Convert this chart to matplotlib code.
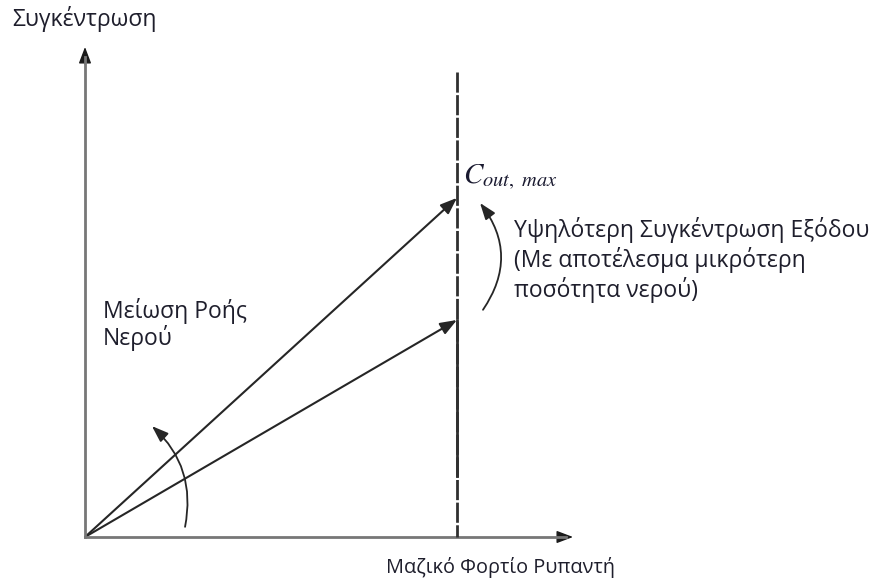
import matplotlib
matplotlib.use("Agg")
import matplotlib.pyplot as plt
from matplotlib.patches import FancyArrowPatch

# diagram values (x: pollutant mass load, y: outlet concentration)
load_max = 1.0
c_out_max = 1.0
c_out_low = 0.64
x_end = 1.312
y_end = 1.445
limit_top = 1.372
solid_from = 0.18

axis_label_y = "Συγκέντρωση"
axis_label_x = "Μαζικό Φορτίο Ρυπαντή"
note_right = ["Υψηλότερη Συγκέντρωση Εξόδου", "(Με αποτέλεσμα μικρότερη", "ποσότητα νερού)"]
note_left = ["Μείωση Ροής", "Νερού"]

plt.rcParams["font.family"] = ["Open Sans", "DejaVu Sans"]
plt.rcParams["mathtext.fontset"] = "stix"
plt.rcParams["lines.scale_dashes"] = False

W, H = 874, 579
fig = plt.figure(figsize=(W / 100, H / 100), dpi=100)
fig.patch.set_facecolor("white")


def px(x, y):
    return x / W, 1 - y / H


ax = fig.add_axes([85 / W, 42 / H, 488 / W, 490 / H])
ax.set_xlim(0, x_end)
ax.set_ylim(0, y_end)
ax.axis("off")

txt = "#1e1e2c"
ink = "#262626"


def arrow(p0, p1, color=ink, lw=1.4, rad=0.0, hl=1.0, hw=0.38):
    a = FancyArrowPatch(p0, p1, arrowstyle=f"-|>,head_length={hl},head_width={hw}",
                        connectionstyle=f"arc3,rad={rad}", mutation_scale=10,
                        color=color, lw=lw, shrinkA=0, shrinkB=0, clip_on=False)
    ax.add_patch(a)


# axes: grey shafts with dark heads
ax.plot([0, x_end - 0.02], [0, 0], color="#777777", lw=2.0, clip_on=False)
ax.plot([0, 0], [0, y_end - 0.03], color="#777777", lw=2.0, clip_on=False)
arrow((x_end - 0.04, 0), (x_end, 0), color="#1a1a1a", lw=1.0)
arrow((0, y_end - 0.05), (0, y_end), color="#1a1a1a", lw=1.0)

# maximum load limit
ax.plot([load_max, load_max], [limit_top, 0], color="#303030", lw=2.0,
        dashes=(14.5, 1.8), clip_on=False)
ax.plot([load_max, load_max], [c_out_low, solid_from], color="#303030", lw=2.0,
        clip_on=False)

# operating lines
arrow((0, 0), (load_max, c_out_max), lw=1.5)
arrow((0, 0), (load_max, c_out_low), lw=1.5)

# curved arrows
arrow((load_max + 0.07, c_out_low + 0.03), (load_max + 0.062, c_out_max - 0.015),
      lw=1.3, rad=0.36, hl=1.0, hw=0.36)
arrow((0.269, 0.03), (0.18, 0.327), lw=1.3, rad=0.28, hl=1.0, hw=0.36)

# labels
fs = 16.5
fig.text(*px(12, 26), axis_label_y, fontsize=fs, color=txt, va="baseline", ha="left")
fig.text(*px(500, 573), axis_label_x, fontsize=14.3, color=txt, va="baseline", ha="center")
fig.text(*px(463, 183), r"$C_{out,\ max}$", fontsize=21, color="#1a1a30",
         va="baseline", ha="left")
for line, yb in zip(note_right, [237, 267, 297]):
    fig.text(*px(514, yb), line, fontsize=fs, color=txt, va="baseline", ha="left")
for line, yb in zip(note_left, [318, 345]):
    fig.text(*px(103, yb), line, fontsize=fs, color=txt, va="baseline", ha="left")

fig.savefig("out.png", dpi=100)
